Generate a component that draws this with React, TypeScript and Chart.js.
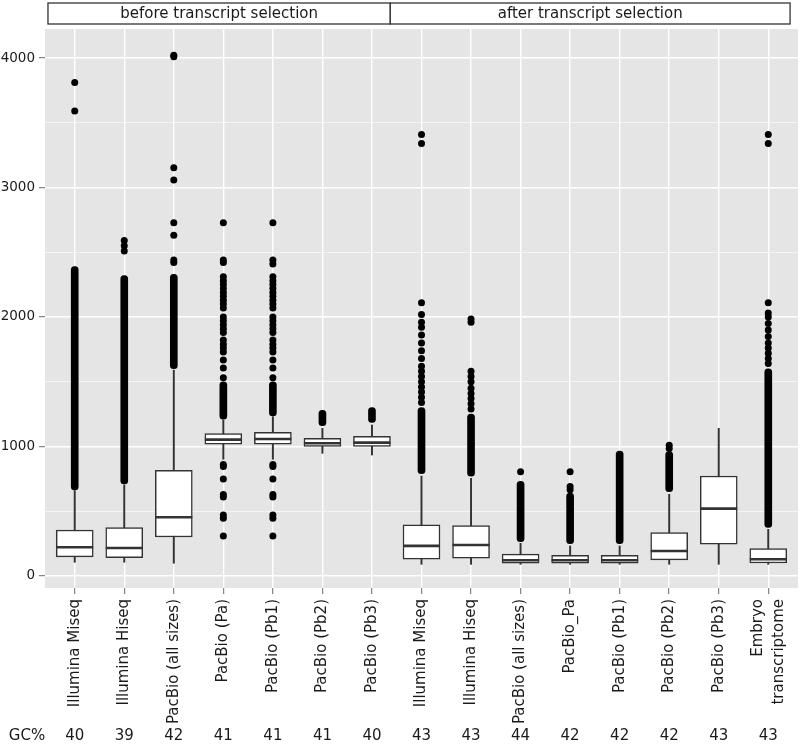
import React, { useEffect, useRef } from 'react';
import { Chart, registerables } from 'chart.js';

Chart.register(...registerables);

// ---- data ----
const categories = [
  'Illumina Miseq',
  'Illumina Hiseq',
  'PacBio (all sizes)',
  'PacBio (Pa)',
  'PacBio (Pb1)',
  'PacBio (Pb2)',
  'PacBio (Pb3)',
  'Illumina Miseq',
  'Illumina Hiseq',
  'PacBio (all sizes)',
  'PacBio_Pa',
  'PacBio (Pb1)',
  'PacBio (Pb2)',
  'PacBio (Pb3)',
  'Embryo\ntranscriptome',
];

const gcPercent = [40, 39, 42, 41, 41, 41, 40, 43, 43, 44, 42, 42, 42, 43, 43];

const facetTitles = ['before transcript selection', 'after transcript selection'];

const whiskerLow = [106, 106, 98, 901, 901, 947, 934, 90, 90, 90, 90, 90, 90, 90, 90];
const q1 = [147, 141, 301, 1017, 1017, 1001, 1001, 129, 137, 98, 98, 98, 124, 245, 100];
const median = [222, 216, 453, 1053, 1058, 1025, 1030, 232, 239, 121, 121, 121, 193, 520, 129];
const q3 = [355, 373, 816, 1099, 1110, 1063, 1079, 394, 389, 168, 160, 160, 335, 772, 211];
const whiskerHigh = [660, 703, 1590, 1205, 1230, 1140, 1166, 772, 754, 252, 232, 232, 631, 1140, 360];

// ranges where outlier points overlap into a solid column (null = none)
const denseLow = [665, 710, 1600, 1210, 1235, 1160, 1185, 790, 770, 265, 250, 250, 650, null, 375];
const denseHigh = [2390, 2320, 2330, 1500, 1500, 1280, 1300, 1300, 1250, 730, 640, 965, 960, null, 1600];

// individual outliers
const outliers: number[][] = [
  [3590, 3810],
  [2510, 2550, 2590],
  [2420, 2440, 2631, 2728, 3058, 3153, 4010, 4022],
  [309, 445, 470, 610, 630, 749, 845, 860, 1530, 1606, 1668, 1730, 1760, 1790, 1822, 1880, 1910, 1940, 1970, 2000, 2070, 2100, 2130, 2160, 2190, 2220, 2250, 2280, 2310, 2420, 2440, 2728],
  [309, 445, 470, 610, 630, 749, 845, 860, 1530, 1606, 1668, 1730, 1760, 1790, 1822, 1880, 1910, 1940, 1970, 2000, 2070, 2100, 2130, 2160, 2190, 2220, 2250, 2280, 2310, 2410, 2440, 2728],
  [],
  [],
  [1340, 1380, 1420, 1460, 1500, 1540, 1580, 1620, 1680, 1740, 1800, 1860, 1920, 1960, 2020, 2110, 3340, 3410],
  [1290, 1330, 1370, 1410, 1450, 1500, 1540, 1580, 1960, 1985],
  [805],
  [665, 690, 805],
  [],
  [985, 1010],
  [],
  [1640, 1680, 1720, 1760, 1800, 1850, 1900, 1950, 2000, 2030, 2110, 3340, 3410],
];

const yTickValues = [0, 500, 1000, 1500, 2000, 2500, 3000, 3500, 4000];

const FONT = "'DejaVu Sans', 'Bitstream Vera Sans', sans-serif";
const TEXT = '#1a1a1a';
const LINE = '#333333';

export default function App() {
  const ref = useRef<HTMLCanvasElement>(null);

  useEffect(() => {
    document.body.style.margin = '0';
    const canvas = ref.current;
    if (!canvas) return;

    const bgPlugin = {
      id: 'panelBg',
      beforeDraw(chart: any) {
        const { ctx, chartArea: a } = chart;
        ctx.save();
        ctx.fillStyle = '#E5E5E5';
        ctx.fillRect(a.left, a.top, a.right - a.left, a.bottom - a.top);
        ctx.restore();
      },
    };

    const stripPlugin = {
      id: 'strips',
      afterDraw(chart: any) {
        const { ctx, chartArea } = chart;
        const xs = chart.scales.x;
        const bounds = [
          [-0.54, 6.37],
          [6.37, 14.44],
        ];
        ctx.save();
        bounds.forEach((b, k) => {
          const x0 = xs.getPixelForValue(b[0]);
          const x1 = xs.getPixelForValue(b[1]);
          ctx.fillStyle = '#ffffff';
          ctx.fillRect(x0, 3, x1 - x0, 21);
          ctx.strokeStyle = LINE;
          ctx.lineWidth = 1.3;
          ctx.strokeRect(x0, 3, x1 - x0, 21);
          ctx.fillStyle = TEXT;
          ctx.font = `15px ${FONT}`;
          ctx.textAlign = 'center';
          ctx.textBaseline = 'middle';
          ctx.fillText(facetTitles[k], (x0 + x1) / 2, 14);
        });
        // multi-line category labels, centred on their tick
        ctx.fillStyle = TEXT;
        ctx.font = `15px ${FONT}`;
        categories.forEach((c, i) => {
          const lines = c.split('\n');
          if (lines.length < 2) return;
          const px = xs.getPixelForValue(i);
          lines.forEach((ln, j) => {
            const lx = px + (j - (lines.length - 1) / 2) * 21;
            ctx.save();
            ctx.translate(lx, chartArea.bottom + 11);
            ctx.rotate(-Math.PI / 2);
            ctx.textAlign = 'right';
            ctx.textBaseline = 'middle';
            ctx.fillText(ln, 0, 0);
            ctx.restore();
          });
        });
        // GC% row
        ctx.fillStyle = TEXT;
        ctx.font = `15px ${FONT}`;
        ctx.textAlign = 'center';
        ctx.textBaseline = 'middle';
        ctx.fillText('GC%', 27, 736);
        gcPercent.forEach((g, i) => {
          ctx.fillText(String(g), xs.getPixelForValue(i), 736);
        });
        ctx.restore();
      },
    };

    const boxData = q1.map((v, i) => ({ x: i, y: [v, q3[i]] }));
    const whiskerData = whiskerLow.map((v, i) => ({ x: i, y: [v, whiskerHigh[i]] }));
    const medianData = median.map((m, i) => ({ x: i, y: m }));
    const denseData = denseLow
      .map((v, i) => (v == null ? null : { x: i, y: [v, denseHigh[i] as number] }))
      .filter((d) => d !== null);
    const outlierData = outliers.flatMap((vals, i) => vals.map((v) => ({ x: i, y: v })));

    const chart = new Chart(canvas, {
      type: 'scatter',
      data: {
        datasets: [
          {
            type: 'scatter',
            label: 'median',
            data: medianData,
            pointStyle: 'line',
            pointRadius: 18.5,
            pointBorderWidth: 2.6,
            pointBorderColor: LINE,
            borderColor: LINE,
            backgroundColor: LINE,
          } as any,
          {
            type: 'bar',
            label: 'box',
            data: boxData,
            backgroundColor: '#ffffff',
            borderColor: LINE,
            borderWidth: 1.5,
            barThickness: 37,
            grouped: false,
            borderSkipped: false,
          } as any,
          {
            type: 'bar',
            label: 'whisker',
            data: whiskerData,
            backgroundColor: LINE,
            borderWidth: 0,
            barThickness: 1.3,
            grouped: false,
          } as any,
          {
            type: 'bar',
            label: 'dense outliers',
            data: denseData,
            backgroundColor: '#000000',
            borderWidth: 0,
            barThickness: 7,
            borderRadius: 3.5,
            borderSkipped: false,
            grouped: false,
          } as any,
          {
            type: 'scatter',
            label: 'outliers',
            data: outlierData,
            pointStyle: 'circle',
            pointRadius: 3.5,
            pointBorderWidth: 0,
            pointBackgroundColor: '#000000',
            backgroundColor: '#000000',
          } as any,
        ],
      },
      options: {
        responsive: false,
        animation: false,
        events: [],
        layout: { autoPadding: false, padding: { top: 29, right: 2, left: 0, bottom: 0 } },
        plugins: {
          legend: { display: false },
          tooltip: { enabled: false },
        },
        scales: {
          x: {
            type: 'linear',
            min: -0.6,
            max: 14.6,
            offset: false,
            afterBuildTicks: (s: any) => {
              s.ticks = categories.map((_, i) => ({ value: i }));
            },
            afterFit: (s: any) => {
              s.height = 157;
              s.paddingLeft = 0;
              s.paddingRight = 0;
            },
            grid: {
              color: '#ffffff',
              lineWidth: 1.4,
              drawTicks: true,
              tickLength: 6,
              tickColor: '#6b6b6b',
              tickWidth: 1,
              offset: false,
            },
            border: { display: false },
            ticks: {
              autoSkip: false,
              maxRotation: 90,
              minRotation: 90,
              padding: 5,
              color: TEXT,
              font: { family: FONT, size: 15 },
              callback: (v: any) => {
                const c = categories[Math.round(Number(v))];
                // multi-line labels are drawn centred by the strips plugin
                return c && c.indexOf('\n') < 0 ? c : '';
              },
            },
          },
          y: {
            type: 'linear',
            min: -93,
            max: 4224,
            afterBuildTicks: (s: any) => {
              s.ticks = yTickValues.map((v) => ({ value: v }));
            },
            afterFit: (s: any) => {
              s.width = 45;
              s.paddingTop = 0;
              s.paddingBottom = 0;
            },
            grid: {
              color: '#ffffff',
              lineWidth: (c: any) => (c.tick && c.tick.value % 1000 === 0 ? 1.4 : 0.6),
              drawTicks: true,
              tickLength: 6,
              tickWidth: 1,
              tickColor: (c: any) =>
                c.tick && c.tick.value % 1000 === 0 ? '#6b6b6b' : 'rgba(0,0,0,0)',
            },
            border: { display: false },
            ticks: {
              padding: 4,
              color: TEXT,
              font: { family: FONT, size: 13.5 },
              callback: (v: any) => (Number(v) % 1000 === 0 ? String(v) : ''),
            },
          },
        },
      } as any,
      plugins: [bgPlugin, stripPlugin],
    });

    return () => chart.destroy();
  }, []);

  return <canvas ref={ref} width={800} height={745} style={{ display: 'block' }} />;
}
